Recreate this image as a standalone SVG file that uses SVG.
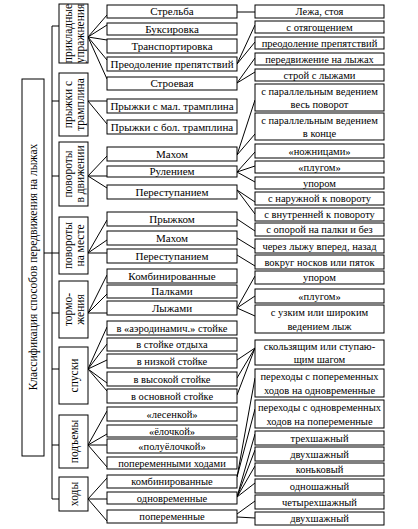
<svg xmlns="http://www.w3.org/2000/svg" width="418" height="529" viewBox="0 0 418 529" font-family="Liberation Serif, Times New Roman, serif">
<style>
rect{fill:#fff;stroke:#000;stroke-width:1}
text{font-family:'Liberation Serif','Times New Roman',serif;font-size:11px;fill:#000;text-anchor:middle}
.c2{font-size:11px}
.c3{font-size:10.5px}
.cat{font-size:11.5px}
.root{font-size:11.5px}
#connectors line{stroke:#000;stroke-width:1}
</style>
<rect x="0" y="0" width="418" height="529" style="fill:#fff;stroke:none"/>
<g id="connectors">
<line x1="44" y1="253" x2="52" y2="253"/>
<line x1="52" y1="26" x2="52" y2="499"/>
<line x1="52" y1="26" x2="59" y2="26"/>
<line x1="52" y1="101" x2="59" y2="101"/>
<line x1="52" y1="176" x2="59" y2="176"/>
<line x1="52" y1="253" x2="59" y2="253"/>
<line x1="52" y1="313" x2="59" y2="313"/>
<line x1="52" y1="369" x2="59" y2="369"/>
<line x1="52" y1="445" x2="59" y2="445"/>
<line x1="52" y1="499" x2="59" y2="499"/>
<line x1="88" y1="37" x2="107" y2="15"/>
<line x1="88" y1="37" x2="107" y2="25"/>
<line x1="88" y1="37" x2="107" y2="40"/>
<line x1="88" y1="37" x2="107" y2="60"/>
<line x1="88" y1="37" x2="107" y2="79"/>
<line x1="88" y1="101" x2="107" y2="101"/>
<line x1="88" y1="101" x2="107" y2="124"/>
<line x1="88" y1="176" x2="107" y2="156"/>
<line x1="88" y1="176" x2="107" y2="176"/>
<line x1="88" y1="176" x2="107" y2="188"/>
<line x1="88" y1="253" x2="107" y2="220"/>
<line x1="88" y1="253" x2="107" y2="240"/>
<line x1="88" y1="253" x2="107" y2="253"/>
<line x1="88" y1="313" x2="107" y2="275"/>
<line x1="88" y1="313" x2="107" y2="294"/>
<line x1="88" y1="313" x2="107" y2="313"/>
<line x1="88" y1="369" x2="107" y2="327"/>
<line x1="88" y1="369" x2="107" y2="344"/>
<line x1="88" y1="369" x2="107" y2="360"/>
<line x1="88" y1="369" x2="107" y2="383"/>
<line x1="88" y1="369" x2="107" y2="391"/>
<line x1="88" y1="445" x2="107" y2="411"/>
<line x1="88" y1="445" x2="107" y2="434"/>
<line x1="88" y1="445" x2="107" y2="445"/>
<line x1="88" y1="445" x2="107" y2="467"/>
<line x1="88" y1="499" x2="107" y2="478"/>
<line x1="88" y1="499" x2="107" y2="499"/>
<line x1="88" y1="499" x2="107" y2="521"/>
<line x1="237" y1="12" x2="255" y2="12"/>
<line x1="237" y1="64" x2="255" y2="25"/>
<line x1="237" y1="64" x2="255" y2="42"/>
<line x1="237" y1="83" x2="255" y2="58"/>
<line x1="237" y1="83" x2="255" y2="72"/>
<line x1="237" y1="155" x2="255" y2="100"/>
<line x1="237" y1="155" x2="255" y2="134"/>
<line x1="237" y1="172" x2="255" y2="152"/>
<line x1="237" y1="172" x2="255" y2="166"/>
<line x1="237" y1="172" x2="255" y2="182"/>
<line x1="237" y1="190" x2="255" y2="202"/>
<line x1="237" y1="190" x2="255" y2="214"/>
<line x1="237" y1="219" x2="255" y2="231"/>
<line x1="237" y1="238" x2="255" y2="249"/>
<line x1="237" y1="255" x2="255" y2="266"/>
<line x1="237" y1="308" x2="255" y2="276"/>
<line x1="237" y1="308" x2="255" y2="296"/>
<line x1="237" y1="308" x2="255" y2="316"/>
<line x1="237" y1="360" x2="255" y2="348"/>
<line x1="237" y1="378" x2="255" y2="348"/>
<line x1="237" y1="395" x2="255" y2="348"/>
<line x1="237" y1="477" x2="255" y2="378"/>
<line x1="237" y1="477" x2="255" y2="409"/>
<line x1="237" y1="497" x2="255" y2="434"/>
<line x1="237" y1="497" x2="255" y2="450"/>
<line x1="237" y1="497" x2="255" y2="466"/>
<line x1="237" y1="497" x2="255" y2="483"/>
<line x1="237" y1="514" x2="255" y2="501"/>
<line x1="237" y1="517" x2="255" y2="518"/>
</g>
<g id="root"><rect x="22" y="79" width="22" height="377"/><text class="root" transform="translate(33,267) rotate(-90)" y="4">Классификация способов передвижения на лыжах</text></g>
<g id="cat1"><rect x="59" y="4" width="29" height="59"/><text class="cat" transform="translate(73.5,33.5) rotate(-90)"><tspan x="0" y="-2">прикладные</tspan><tspan x="0" y="10">упражнения</tspan></text></g>
<g id="cat2"><rect x="59" y="73" width="29" height="63"/><text class="cat" transform="translate(73.5,104.5) rotate(-90)"><tspan x="0" y="-2">прыжки с</tspan><tspan x="0" y="10">трамплина</tspan></text></g>
<g id="cat3"><rect x="59" y="142" width="29" height="64"/><text class="cat" transform="translate(73.5,174) rotate(-90)"><tspan x="0" y="-2">повороты</tspan><tspan x="0" y="10">в движении</tspan></text></g>
<g id="cat4"><rect x="59" y="217" width="29" height="57"/><text class="cat" transform="translate(73.5,245.5) rotate(-90)"><tspan x="0" y="-2">повороты</tspan><tspan x="0" y="10">на месте</tspan></text></g>
<g id="cat5"><rect x="59" y="281" width="29" height="57"/><text class="cat" transform="translate(73.5,309.5) rotate(-90)"><tspan x="0" y="-2">тормо-</tspan><tspan x="0" y="10">жения</tspan></text></g>
<g id="cat6"><rect x="59" y="347" width="29" height="57"/><text class="cat" transform="translate(73.5,375.5) rotate(-90)" y="4">спуски</text></g>
<g id="cat7"><rect x="59" y="415" width="29" height="53"/><text class="cat" transform="translate(73.5,441.5) rotate(-90)" y="4">подъемы</text></g>
<g id="cat8"><rect x="59" y="477" width="29" height="34"/><text class="cat" transform="translate(73.5,494) rotate(-90)" y="4">ходы</text></g>
<g id="n2-1"><rect x="107" y="5" width="130" height="13"/><text class="c2" x="172" y="15">Стрельба</text></g>
<g id="n2-2"><rect x="107" y="23" width="130" height="12"/><text class="c2" x="172" y="33">Буксировка</text></g>
<g id="n2-3"><rect x="107" y="39" width="130" height="14"/><text class="c2" x="172" y="50">Транспортировка</text></g>
<g id="n2-4"><rect x="107" y="57" width="130" height="14"/><text class="c2" x="172" y="68">Преодоление препятствий</text></g>
<g id="n2-5"><rect x="107" y="77" width="130" height="13"/><text class="c2" x="172" y="87">Строевая</text></g>
<g id="n2-6"><rect x="107" y="99" width="130" height="14"/><text class="c2" x="172" y="110">Прыжки с мал. трамплина</text></g>
<g id="n2-7"><rect x="107" y="120" width="130" height="14"/><text class="c2" x="172" y="131">Прыжки с бол. трамплина</text></g>
<g id="n2-8"><rect x="107" y="147" width="130" height="14"/><text class="c2" x="172" y="158">Махом</text></g>
<g id="n2-9"><rect x="107" y="166" width="130" height="11"/><text class="c2" x="172" y="175">Рулением</text></g>
<g id="n2-10"><rect x="107" y="185" width="130" height="14"/><text class="c2" x="172" y="196">Переступанием</text></g>
<g id="n2-11"><rect x="107" y="212" width="130" height="14"/><text class="c2" x="172" y="223">Прыжком</text></g>
<g id="n2-12"><rect x="107" y="231" width="130" height="14"/><text class="c2" x="172" y="242">Махом</text></g>
<g id="n2-13"><rect x="107" y="249" width="130" height="14"/><text class="c2" x="172" y="260">Переступанием</text></g>
<g id="n2-14"><rect x="107" y="269" width="130" height="14"/><text class="c2" x="172" y="280">Комбинированные</text></g>
<g id="n2-15"><rect x="107" y="285" width="130" height="13"/><text class="c2" x="172" y="295">Палками</text></g>
<g id="n2-16"><rect x="107" y="301" width="130" height="14"/><text class="c2" x="172" y="312">Лыжами</text></g>
<g id="n2-17"><rect x="107" y="321" width="130" height="14"/><text class="c3" x="172" y="332">в «аэродинамич.» стойке</text></g>
<g id="n2-18"><rect x="107" y="338" width="130" height="13"/><text class="c3" x="172" y="348">в стойке отдыха</text></g>
<g id="n2-19"><rect x="107" y="354" width="130" height="14"/><text class="c3" x="172" y="365">в низкой стойке</text></g>
<g id="n2-20"><rect x="107" y="372" width="130" height="14"/><text class="c3" x="172" y="383">в высокой стойке</text></g>
<g id="n2-21"><rect x="107" y="389" width="130" height="14"/><text class="c3" x="172" y="400">в основной стойке</text></g>
<g id="n2-22"><rect x="107" y="407" width="130" height="14"/><text class="c3" x="172" y="418">«лесенкой»</text></g>
<g id="n2-23"><rect x="107" y="425" width="130" height="12"/><text class="c3" x="172" y="435">«ёлочкой»</text></g>
<g id="n2-24"><rect x="107" y="439" width="130" height="14"/><text class="c3" x="172" y="450">«полуёлочкой»</text></g>
<g id="n2-25"><rect x="107" y="457" width="130" height="12"/><text class="c3" x="172" y="467">попеременными ходами</text></g>
<g id="n2-26"><rect x="107" y="475" width="130" height="13"/><text class="c3" x="172" y="485">комбинированные</text></g>
<g id="n2-27"><rect x="107" y="492" width="130" height="12"/><text class="c3" x="172" y="502">одновременные</text></g>
<g id="n2-28"><rect x="107" y="510" width="130" height="13"/><text class="c3" x="172" y="520">попеременные</text></g>
<g id="n3-1"><rect x="255" y="5" width="129" height="13"/><text class="c3" x="319.5" y="15">Лежа, стоя</text></g>
<g id="n3-2"><rect x="255" y="21" width="129" height="12"/><text class="c3" x="319.5" y="31">с отягощением</text></g>
<g id="n3-3"><rect x="255" y="37" width="129" height="12"/><text class="c3" x="319.5" y="47">преодоление препятствий</text></g>
<g id="n3-4"><rect x="255" y="53" width="129" height="12"/><text class="c3" x="319.5" y="63">передвижение на лыжах</text></g>
<g id="n3-5"><rect x="255" y="69" width="129" height="12"/><text class="c3" x="319.5" y="79">строй с лыжами</text></g>
<g id="n3-6"><rect x="255" y="84" width="129" height="27"/><text class="c3" x="319.5" y="95">с параллельным ведением<tspan x="319.5" y="108">весь поворот</tspan></text></g>
<g id="n3-7"><rect x="255" y="113" width="129" height="27"/><text class="c3" x="319.5" y="124">с параллельным ведением<tspan x="319.5" y="137">в конце</tspan></text></g>
<g id="n3-8"><rect x="255" y="144" width="129" height="14"/><text class="c3" x="319.5" y="155">«ножницами»</text></g>
<g id="n3-9"><rect x="255" y="161" width="129" height="12"/><text class="c3" x="319.5" y="171">«плугом»</text></g>
<g id="n3-10"><rect x="255" y="177" width="129" height="12"/><text class="c3" x="319.5" y="187">упором</text></g>
<g id="n3-11"><rect x="255" y="192" width="129" height="13"/><text class="c3" x="319.5" y="202">с наружной к повороту</text></g>
<g id="n3-12"><rect x="255" y="208" width="129" height="13"/><text class="c3" x="319.5" y="218">с внутренней к повороту</text></g>
<g id="n3-13"><rect x="255" y="223" width="129" height="13"/><text class="c3" x="319.5" y="233">с опорой на палки и без</text></g>
<g id="n3-14"><rect x="255" y="239" width="129" height="14"/><text class="c3" x="319.5" y="250">через лыжу вперед, назад</text></g>
<g id="n3-15"><rect x="255" y="255" width="129" height="14"/><text class="c3" x="319.5" y="266">вокруг носков или пяток</text></g>
<g id="n3-16"><rect x="255" y="271" width="129" height="13"/><text class="c3" x="319.5" y="281">упором</text></g>
<g id="n3-17"><rect x="255" y="289" width="129" height="14"/><text class="c3" x="319.5" y="300">«плугом»</text></g>
<g id="n3-18"><rect x="255" y="305" width="129" height="28"/><text class="c3" x="319.5" y="316">с узким или широким<tspan x="319.5" y="330">ведением лыж</tspan></text></g>
<g id="n3-19"><rect x="255" y="340" width="129" height="25"/><text class="c3" x="319.5" y="350">скользящим или ступаю-<tspan x="319.5" y="363">щим шагом</tspan></text></g>
<g id="n3-20"><rect x="255" y="369" width="129" height="28"/><text class="c3" x="319.5" y="380">переходы с попеременных<tspan x="319.5" y="394">ходов на одновременные</tspan></text></g>
<g id="n3-21"><rect x="255" y="400" width="129" height="28"/><text class="c3" x="319.5" y="411">переходы с одновременных<tspan x="319.5" y="425">ходов на попеременные</tspan></text></g>
<g id="n3-22"><rect x="255" y="431" width="129" height="14"/><text class="c3" x="319.5" y="442">трехшажный</text></g>
<g id="n3-23"><rect x="255" y="447" width="129" height="14"/><text class="c3" x="319.5" y="458">двухшажный</text></g>
<g id="n3-24"><rect x="255" y="463" width="129" height="13"/><text class="c3" x="319.5" y="473">коньковый</text></g>
<g id="n3-25"><rect x="255" y="479" width="129" height="14"/><text class="c3" x="319.5" y="490">одношажный</text></g>
<g id="n3-26"><rect x="255" y="495" width="129" height="14"/><text class="c3" x="319.5" y="506">четырехшажный</text></g>
<g id="n3-27"><rect x="255" y="512" width="129" height="13"/><text class="c3" x="319.5" y="522">двухшажный</text></g>
</svg>
